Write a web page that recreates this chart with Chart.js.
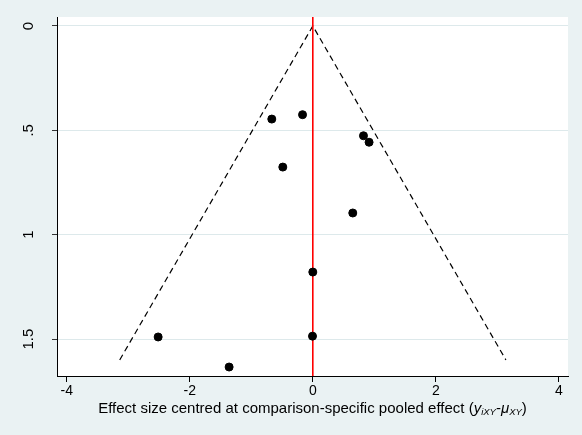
<!DOCTYPE html>
<html>
<head>
<meta charset="utf-8">
<script src="https://cdn.jsdelivr.net/npm/chart.js@4.4.1/dist/chart.umd.min.js"></script>
<style>
  html, body { margin: 0; padding: 0; background: #EAF2F3; }
  #wrap { width: 582px; height: 435px; }
</style>
</head>
<body>
<div id="wrap"><canvas id="funil" width="582" height="435"></canvas></div>
<script>
// estudos: efeito centrado e erro padrão
const efeito = [-0.667, -0.167, 0.824, 0.915, -0.488, 0.650, 0.000, -2.515, -0.005, -1.361];
const erroPadrao = [0.446, 0.425, 0.526, 0.557, 0.676, 0.896, 1.179, 1.490, 1.486, 1.634];

// limites do funil (pseudo IC 95%)
const funilX = [-3.14, 0, 3.14];
const funilY = [1.60, 0, 1.60];

// linha do efeito combinado
const linhaX = [0, 0];
const linhaY = [-0.043, 1.677];

const ticksX = [-4, -2, 0, 2, 4];
const ticksY = [0, 0.5, 1, 1.5];
const rotulosY = ['0', '.5', '1', '1.5'];

const FONTE = '"Liberation Sans", Arial, Helvetica, sans-serif';
const tituloX = 'Effect size centred at comparison-specific pooled effect (';

const fundo = {
  id: 'fundo',
  beforeDraw(chart) {
    const { ctx, chartArea: a } = chart;
    ctx.save();
    ctx.fillStyle = '#EAF2F3';
    ctx.fillRect(0, 0, chart.width, chart.height);
    ctx.fillStyle = '#FFFFFF';
    ctx.fillRect(a.left, a.top, a.right - a.left, a.bottom - a.top);
    ctx.restore();
  }
};

const textos = {
  id: 'textos',
  afterDraw(chart) {
    const { ctx, chartArea: a } = chart;
    const y = chart.scales.y;
    ctx.save();
    ctx.fillStyle = '#000';

    // rótulos do eixo y, girados
    ctx.font = '15px ' + FONTE;
    ctx.textAlign = 'center';
    ctx.textBaseline = 'alphabetic';
    ticksY.forEach((v, i) => {
      ctx.save();
      ctx.translate(33, y.getPixelForValue(v));
      ctx.rotate(-Math.PI / 2);
      ctx.fillText(rotulosY[i], 0, 0);
      ctx.restore();
    });

    // título do eixo x com subscritos
    const partes = [
      { t: tituloX, f: '15px ' + FONTE, dy: 0 },
      { t: 'y', f: 'italic 15px ' + FONTE, dy: 0 },
      { t: 'iXY', f: 'italic 9.5px ' + FONTE, dy: 1.5 },
      { t: '-', f: '15px ' + FONTE, dy: 0 },
      { t: 'μ', f: 'italic 15px ' + FONTE, dy: 0 },
      { t: 'XY', f: 'italic 9.5px ' + FONTE, dy: 1.5 },
      { t: ')', f: '15px ' + FONTE, dy: 0 }
    ];
    let total = 0;
    partes.forEach(p => { ctx.font = p.f; p.w = ctx.measureText(p.t).width; total += p.w; });
    let x = (a.left + a.right) / 2 - total / 2;
    ctx.textAlign = 'left';
    partes.forEach(p => {
      ctx.font = p.f;
      ctx.fillText(p.t, x, 413 + p.dy);
      x += p.w;
    });
    ctx.restore();
  }
};

new Chart(document.getElementById('funil'), {
  type: 'scatter',
  data: {
    datasets: [
      {
        label: 'estudos',
        data: efeito.map((v, i) => ({ x: v, y: erroPadrao[i] })),
        backgroundColor: '#000',
        borderColor: '#000',
        pointRadius: 4,
        pointHoverRadius: 4,
        order: 1
      },
      {
        label: 'funil',
        type: 'line',
        data: funilX.map((v, i) => ({ x: v, y: funilY[i] })),
        borderColor: '#000',
        borderWidth: 1.2,
        borderDash: [6, 4],
        pointRadius: 0,
        fill: false,
        order: 3
      },
      {
        label: 'combinado',
        type: 'line',
        data: linhaX.map((v, i) => ({ x: v, y: linhaY[i] })),
        borderColor: '#FF0000',
        borderWidth: 1.6,
        pointRadius: 0,
        fill: false,
        order: 2
      }
    ]
  },
  options: {
    responsive: false,
    animation: false,
    layout: { padding: { top: 17, right: 14, left: 0, bottom: 0 } },
    plugins: {
      legend: { display: false },
      tooltip: { enabled: false }
    },
    scales: {
      x: {
        type: 'linear',
        min: -4.16,
        max: 4.15,
        afterBuildTicks: s => { s.ticks = ticksX.map(v => ({ value: v })); },
        afterFit: s => { s.height = 59; },
        ticks: {
          color: '#000',
          font: { family: FONTE, size: 14 },
          padding: 1,
          maxRotation: 0,
          callback: v => String(v)
        },
        grid: { drawOnChartArea: false, drawTicks: true, tickLength: 6, color: '#000' },
        border: { display: true, color: '#000', width: 1 }
      },
      y: {
        type: 'linear',
        reverse: true,
        min: -0.043,
        max: 1.677,
        afterBuildTicks: s => { s.ticks = ticksY.map(v => ({ value: v })); },
        afterFit: s => { s.width = 57; },
        ticks: {
          color: 'rgba(0,0,0,0)',
          font: { family: FONTE, size: 13 },
          callback: v => String(v)
        },
        grid: { color: '#DDE9EB', tickColor: '#333', tickLength: 5, lineWidth: 1 },
        border: { display: true, color: '#000', width: 1 }
      }
    }
  },
  plugins: [fundo, textos]
});
</script>
</body>
</html>
